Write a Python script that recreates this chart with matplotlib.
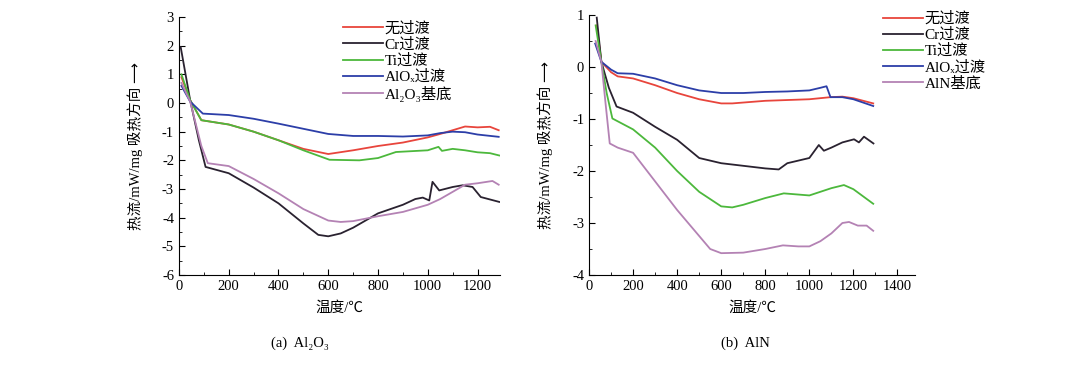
#!/usr/bin/env python
# DSC heat-flow curves for Al2O3 and AlN substrates

import matplotlib
matplotlib.use('Agg')
import matplotlib.pyplot as plt
from matplotlib.ticker import MultipleLocator

plt.rcParams['font.family'] = ['Liberation Serif', 'Noto Sans CJK SC', 'DejaVu Sans']
plt.rcParams['axes.unicode_minus'] = False

# (a) Al2O3 substrate
a_none_x = [10, 45, 90, 200, 300, 400, 500, 600, 700, 800, 900, 1000, 1050, 1100, 1150, 1200, 1250, 1285]
a_none_y = [0.9, 0.1, -0.6, -0.75, -1.0, -1.3, -1.6, -1.78, -1.65, -1.5, -1.38, -1.2, -1.08, -0.95, -0.82, -0.85, -0.83, -0.95]
a_cr_x = [7, 45, 80, 107, 200, 300, 400, 500, 560, 600, 650, 700, 800, 900, 950, 980, 1006, 1019, 1046, 1100, 1140, 1180, 1213, 1287]
a_cr_y = [1.95, 0.1, -1.3, -2.23, -2.45, -2.95, -3.5, -4.2, -4.6, -4.65, -4.55, -4.35, -3.85, -3.55, -3.35, -3.3, -3.4, -2.75, -3.05, -2.93, -2.87, -2.93, -3.28, -3.45]
a_ti_x = [10, 45, 90, 200, 300, 400, 500, 605, 725, 800, 872, 1000, 1043, 1057, 1100, 1150, 1200, 1250, 1287]
a_ti_y = [1.0, 0.1, -0.6, -0.75, -1.0, -1.3, -1.65, -1.98, -2.0, -1.92, -1.71, -1.65, -1.53, -1.67, -1.6, -1.65, -1.72, -1.75, -1.83]
a_alox_x = [10, 45, 96, 200, 300, 400, 500, 600, 700, 800, 900, 1000, 1050, 1100, 1150, 1200, 1285]
a_alox_y = [0.6, 0.05, -0.37, -0.42, -0.55, -0.72, -0.9, -1.08, -1.15, -1.15, -1.17, -1.13, -1.05, -1.0, -1.02, -1.1, -1.18]
a_sub_x = [10, 45, 90, 116, 200, 300, 400, 500, 600, 650, 700, 800, 900, 1000, 1050, 1100, 1150, 1200, 1260, 1285]
a_sub_y = [0.7, 0.05, -1.5, -2.1, -2.2, -2.65, -3.15, -3.7, -4.1, -4.15, -4.12, -3.95, -3.8, -3.55, -3.35, -3.1, -2.85, -2.8, -2.72, -2.85]

# (b) AlN substrate
b_none_x = [35, 56, 100, 130, 200, 300, 400, 500, 600, 650, 800, 1000, 1096, 1150, 1200, 1290]
b_none_y = [0.8, 0.1, -0.1, -0.18, -0.22, -0.35, -0.5, -0.62, -0.7, -0.7, -0.65, -0.62, -0.58, -0.57, -0.6, -0.7]
b_cr_x = [35, 56, 90, 125, 200, 300, 400, 500, 600, 700, 800, 861, 900, 1000, 1043, 1066, 1100, 1150, 1203, 1225, 1248, 1291]
b_cr_y = [0.95, 0.1, -0.4, -0.76, -0.88, -1.15, -1.4, -1.75, -1.85, -1.9, -1.95, -1.97, -1.85, -1.75, -1.5, -1.61, -1.55, -1.45, -1.39, -1.45, -1.34, -1.47]
b_ti_x = [30, 56, 80, 106, 200, 300, 400, 500, 600, 650, 700, 800, 884, 1000, 1050, 1100, 1157, 1200, 1290]
b_ti_y = [0.8, 0.1, -0.5, -0.99, -1.2, -1.55, -2.0, -2.4, -2.68, -2.7, -2.65, -2.52, -2.43, -2.47, -2.4, -2.33, -2.27, -2.35, -2.63]
b_alox_x = [28, 56, 100, 130, 200, 300, 400, 500, 600, 700, 800, 900, 1000, 1050, 1078, 1096, 1150, 1200, 1290]
b_alox_y = [0.45, 0.1, -0.05, -0.12, -0.13, -0.22, -0.35, -0.45, -0.5, -0.5, -0.48, -0.47, -0.45, -0.4, -0.37, -0.58, -0.58, -0.62, -0.75]
b_sub_x = [30, 56, 75, 94, 130, 200, 300, 400, 500, 550, 600, 700, 800, 880, 950, 1000, 1050, 1100, 1150, 1180, 1220, 1260, 1290]
b_sub_y = [0.5, 0.1, -0.7, -1.47, -1.55, -1.65, -2.2, -2.75, -3.25, -3.5, -3.58, -3.57, -3.5, -3.43, -3.45, -3.45, -3.35, -3.2, -3.0, -2.98, -3.05, -3.05, -3.15]

colors = ['#e8453c', '#2a2230', '#4cb83c', '#2c3ea8', '#b482b4']
labels_a = ['无过渡', 'Cr过渡', 'Ti过渡', 'AlOₓ过渡', 'Al₂O₃基底']
labels_b = ['无过渡', 'Cr过渡', 'Ti过渡', 'AlOₓ过渡', 'AlN基底']

fig = plt.figure(figsize=(10.8, 3.87), dpi=100)
ax1 = fig.add_axes([0.1657, 0.2894, 0.2972, 0.6667])
ax2 = fig.add_axes([0.5454, 0.2894, 0.3019, 0.6718])

series_a = [(a_none_x, a_none_y), (a_cr_x, a_cr_y), (a_ti_x, a_ti_y), (a_alox_x, a_alox_y), (a_sub_x, a_sub_y)]
series_b = [(b_none_x, b_none_y), (b_cr_x, b_cr_y), (b_ti_x, b_ti_y), (b_alox_x, b_alox_y), (b_sub_x, b_sub_y)]

for ax, series, labels in [(ax1, series_a, labels_a), (ax2, series_b, labels_b)]:
    for (x, y), c, lab in zip(series, colors, labels):
        ax.plot(x, y, color=c, lw=1.3, label=lab)
    for s in ['top', 'right']:
        ax.spines[s].set_visible(False)
    ax.tick_params(which='both', direction='in', labelsize=10.5)
    ax.tick_params(which='major', length=4)
    ax.tick_params(which='minor', length=2)
    ax.xaxis.set_major_locator(MultipleLocator(200))
    ax.xaxis.set_minor_locator(MultipleLocator(100))
    ax.yaxis.set_major_locator(MultipleLocator(1))
    ax.yaxis.set_minor_locator(MultipleLocator(0.5))
    ax.set_xlabel('温度/℃', fontsize=10.5, labelpad=6)
    ax.set_ylabel('热流/mW/mg 吸热方向 ⟶', fontsize=10.5, labelpad=14)

ax1.set_xlim(0, 1290)
ax1.set_ylim(-6, 3)
ax2.set_xlim(0, 1480)
ax2.set_ylim(-4, 1)

leg_kw = dict(frameon=False, fontsize=11, handlelength=2.6, handletextpad=0.1,
              labelspacing=0.12, borderpad=0, borderaxespad=0)
ax1.legend(loc='upper left', bbox_to_anchor=(0.318, 0.945), bbox_transform=fig.transFigure, **leg_kw)
ax2.legend(loc='upper left', bbox_to_anchor=(0.818, 0.97), bbox_transform=fig.transFigure, **leg_kw)

fig.text(300 / 1080, 1 - 343 / 387, '(a)  Al₂O₃', ha='center', va='center', fontsize=10.5)
fig.text(745 / 1080, 1 - 343 / 387, '(b)  AlN', ha='center', va='center', fontsize=10.5)

fig.savefig('out.png', dpi=100, facecolor='white')
